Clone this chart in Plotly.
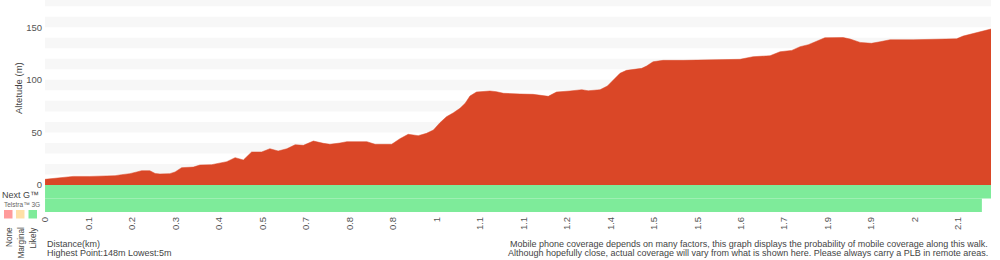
import plotly.graph_objects as go

W, H = 1000, 260

# ---- data ----
# x position in sample-index units (10 units between consecutive distance ticks)
dist_idx = [0, 1.54, 3.45, 6.5, 10.3, 16.1, 17.6, 19.5, 21.1, 22.2, 24.1, 25.3, 26.4, 28.7,
            29.9, 31.4, 34.1, 35.6, 38.3, 40.2, 41.8, 43.7, 45.6, 47.5, 49.8, 51.7, 53.6,
            55.6, 57.5, 59.4, 61.7, 64.0, 65.5, 67.8, 69.4, 74.0, 75.9, 79.7, 81.6, 83.5,
            85.8, 87.7, 89.3, 90.8, 92.3, 93.9, 95.4, 96.6, 97.7, 99.2, 102.3, 103.8, 105.4,
            109.2, 112.2, 115.7, 117.6, 120.7, 123.4, 124.9, 127.6, 129.3, 130.6, 132.2,
            133.7, 137.2, 138.3, 139.8, 142.1, 146.7, 159.8, 162.8, 166.7, 169.0, 171.7,
            173.6, 175.5, 177.5, 179.3, 183.5, 185.1, 187.4, 190.0, 192.0, 194.3, 199.6,
            204.2, 209.6, 211.1, 214.2, 217.5]
elevation = [5.4, 6.0, 7.0, 8.2, 8.2, 8.9, 9.8, 10.8, 12.4, 13.6, 13.6, 11.0, 10.5, 10.8,
             12.4, 16.5, 17.0, 19.0, 19.3, 21.2, 22.2, 26.0, 23.8, 31.4, 31.4, 34.5, 32.3,
             34.5, 38.3, 37.7, 41.8, 39.6, 38.7, 39.9, 41.2, 41.2, 38.7, 38.7, 44.0, 48.2,
             46.9, 49.1, 52.3, 59.2, 64.9, 68.7, 72.9, 77.7, 84.6, 88.4, 89.4, 88.7, 87.2,
             86.5, 86.2, 84.3, 88.4, 89.4, 90.6, 89.6, 90.6, 94.1, 99.8, 106.2,
             109.0, 110.9, 113.1, 117.2, 118.5, 118.5, 119.5, 122.0, 122.9, 126.7, 128.0,
             131.5, 133.4, 136.6, 140.0, 140.2, 138.8, 135.6, 134.7, 136.2, 138.1, 138.1,
             138.8, 139.0, 141.6, 145.2, 148.3]
x_end = 217.5

tick_pos = [0, 10, 20, 30, 40, 50, 60, 70, 80, 90, 100, 110, 120, 130, 140, 150, 160,
            170, 180, 190, 200, 210]
tick_labels = ["0", "0.1", "0.2", "0.3", "0.4", "0.5", "0.7", "0.8", "0.8", "1", "1.1",
               "1.1", "1.2", "1.4", "1.5", "1.5", "1.6", "1.7", "1.9", "1.9", "2", "2.1"]
y_ticks = [0, 50, 100, 150]

coverage_rows = ["Next G™", "Telstra™ 3G"]
coverage_start = [0, 0]
coverage_end = [217.5, 215.4]
coverage_level = ["Likely", "Likely"]
legend_levels = ["None", "Marginal", "Likely"]
level_colors = {"None": "#ff9b9b", "Marginal": "#ffe0a6", "Likely": "#7eeb9a"}

AREA = "#da4727"
FONT = "Liberation Sans, Arial, Helvetica, sans-serif"
TXT = "#444444"


def px(x):
    return x / W


def py(y):
    return 1 - y / H


fig = go.Figure()

fig.add_trace(go.Scatter(
    x=dist_idx, y=elevation, mode="lines", fill="tozeroy",
    line=dict(color=AREA, width=0.5), fillcolor=AREA,
    xaxis="x", yaxis="y", showlegend=False, hoverinfo="skip"))

n = len(coverage_rows)
for i, row in enumerate(coverage_rows):
    fig.add_trace(go.Bar(
        y=[n - 1 - i], x=[coverage_end[i] - coverage_start[i]], base=[coverage_start[i]],
        orientation="h", width=1, marker=dict(color=level_colors[coverage_level[i]], line=dict(width=0)),
        xaxis="x", yaxis="y2", showlegend=False, hoverinfo="skip"))

shapes = []
ymax = 175.9
for lo in range(10, 180, 20):
    shapes.append(dict(type="rect", xref="paper", yref="y", x0=px(45), x1=px(991),
                       y0=lo, y1=min(lo + 10, ymax), fillcolor="#f7f7f7",
                       line=dict(width=0), layer="below"))

sq_x = [4, 16, 28.5]
for i, lev in enumerate(legend_levels):
    shapes.append(dict(type="rect", xref="paper", yref="paper",
                       x0=px(sq_x[i]), x1=px(sq_x[i] + 8.5), y0=py(218.5), y1=py(210),
                       fillcolor=level_colors[lev], line=dict(width=0)))

annotations = [
    dict(text="Altetude (m)", textangle=-90, x=px(18.5), y=py(88.5), xref="paper", yref="paper",
         showarrow=False, font=dict(size=9.5, color=TXT, family=FONT), xanchor="center", yanchor="middle"),
    dict(text="Next G™", x=px(0), y=py(194.5), xref="paper", yref="paper", showarrow=False,
         font=dict(size=9, color=TXT, family=FONT), xanchor="left", yanchor="middle"),
    dict(text="Telstra™ 3G", x=px(2), y=py(204.5), xref="paper", yref="paper", showarrow=False,
         font=dict(size=6.5, color="#666666", family=FONT), xanchor="left", yanchor="middle"),
    dict(text="Distance(km)", x=px(45), y=py(243.5), xref="paper", yref="paper", showarrow=False,
         font=dict(size=9, color=TXT, family=FONT), xanchor="left", yanchor="middle"),
    dict(text="Highest Point:%dm Lowest:%dm" % (round(max(elevation)), round(min(elevation))),
         x=px(45), y=py(252.5), xref="paper", yref="paper", showarrow=False,
         font=dict(size=9, color=TXT, family=FONT), xanchor="left", yanchor="middle"),
    dict(text="Mobile phone coverage depends on many factors, this graph displays the probability of mobile coverage along this walk.",
         x=px(990), y=py(243.5), xref="paper", yref="paper", showarrow=False,
         font=dict(size=9, color=TXT, family=FONT), xanchor="right", yanchor="middle"),
    dict(text="Although hopefully close, actual coverage will vary from what is shown here. Please always carry a PLB in remote areas.",
         x=px(990), y=py(252.5), xref="paper", yref="paper", showarrow=False,
         font=dict(size=9, color=TXT, family=FONT), xanchor="right", yanchor="middle"),
]
lab_x = [9, 20.5, 32.5]
for i, lev in enumerate(legend_levels):
    annotations.append(dict(text=lev, textangle=-90, x=px(lab_x[i]), y=py(225), xref="paper",
                            yref="paper", showarrow=False, xanchor="center", yanchor="top",
                            font=dict(size=8.2, color=TXT, family=FONT)))

fig.update_layout(
    width=W, height=H, autosize=False,
    margin=dict(l=0, r=0, t=0, b=0, pad=0, autoexpand=False),
    paper_bgcolor="white", plot_bgcolor="white",
    font=dict(family=FONT, color="#555555"),
    barmode="overlay",
    xaxis=dict(domain=[px(45), px(991)], range=[-0.01, x_end], anchor="y2", automargin=False,
               tickmode="array", tickvals=tick_pos, ticktext=tick_labels, tickangle=-90,
               showgrid=False, zeroline=False, showline=False, ticks="", ticklabelstandoff=2,
               tickfont=dict(size=9.5, color="#555555", family=FONT)),
    yaxis=dict(domain=[py(185), 1], range=[0, ymax], anchor="x", automargin=False,
               tickmode="array", tickvals=y_ticks, showgrid=False, zeroline=False,
               showline=False, ticks="", ticklabelstandoff=2,
               tickfont=dict(size=9.5, color="#555555", family=FONT)),
    yaxis2=dict(domain=[py(212), py(185)], range=[-0.5, n - 0.5], anchor="x", automargin=False,
                showticklabels=False, showgrid=False, zeroline=False, showline=False, ticks=""),
    shapes=shapes, annotations=annotations,
)

fig.write_html("out.html")
